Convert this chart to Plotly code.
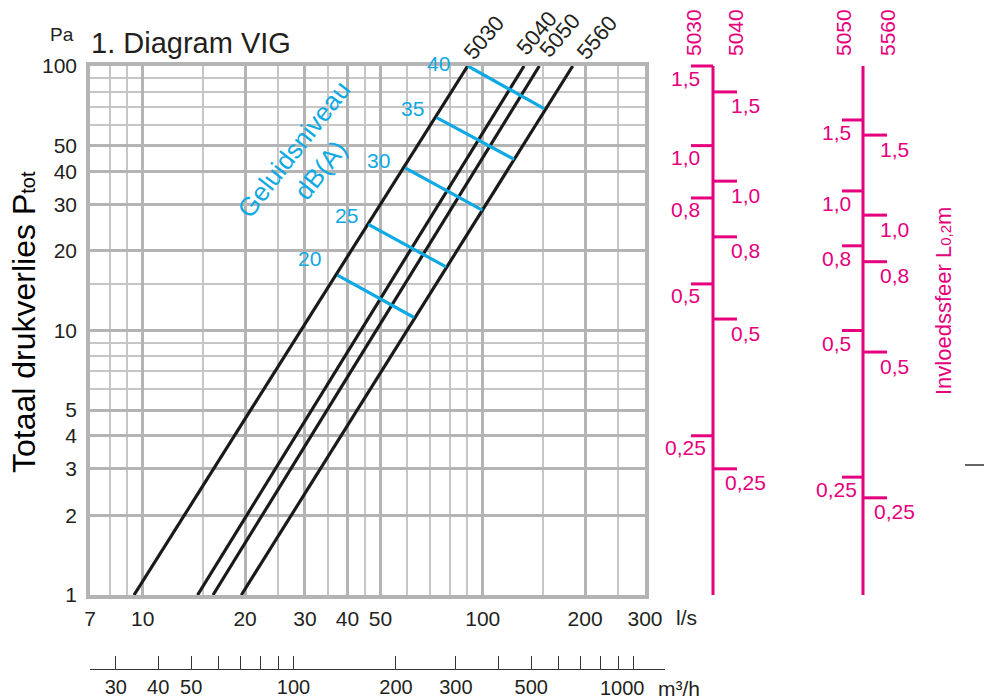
import math
import plotly.graph_objects as go

W, H = 984, 700

# ---------------- data ----------------
flow_ticks_ls = [7, 10, 20, 30, 40, 50, 100, 200, 300]
flow_minor_ls = [8, 9, 15, 25, 35, 45, 60, 70, 80, 90, 150, 250]
pressure_ticks = [1, 2, 3, 4, 5, 10, 20, 30, 40, 50, 100]
pressure_minor = [6, 7, 8, 9, 15, 60, 70, 80, 90]
flow_ticks_m3h = [30, 40, 50, 60, 70, 80, 90, 100, 200, 300, 400, 500, 600, 700, 800, 900, 1000]
flow_labels_m3h = ['30', '40', '50', '', '', '', '', '100', '200', '300', '', '500', '', '', '', '', '']
flow_last_label_m3h = 1000

fan_types = ['5030', '5040', '5050', '5560']
fan_q_at_1pa = [9.43, 14.5, 16.1, 19.5]        # l/s at 1 Pa
fan_q_at_100pa = [90.3, 132.3, 146.7, 183.9]   # l/s at 100 Pa

sound_levels = ['20', '25', '30', '35', '40']  # dB(A)
sound_q_start = [37.4, 46.1, 59.1, 73.2, 90.4]
sound_p_start = [16.2, 25.2, 41.2, 63.8, 100.0]
sound_q_end = [62.8, 78.0, 99.7, 123.6, 151.5]
sound_p_end = [11.2, 17.4, 28.5, 44.4, 69.0]

throw_labels = ['1,5', '1,0', '0,8', '0,5', '0,25']   # Invloedssfeer L0,2m (m)
throw_pa_5030 = [100.0, 50.0, 31.7, 15.0, 4.0]
throw_pa_5040 = [79.8, 36.7, 22.6, 11.05, 3.0]
throw_pa_5050 = [62.5, 33.7, 20.9, 10.0, 2.79]
throw_pa_5560 = [54.8, 27.3, 18.2, 8.29, 2.33]
throw_scale_extent = [1, 100]

# ---------------- style ----------------
FONT = 'Liberation Sans'
TXT = '#231f20'
PINK = '#e5007d'
BLUE = '#0fa9e3'
GRID_MAJ = '#b4b4b4'
GRID_MIN = '#c6c6c6'


def px(x):
    return x / W


def py(y):
    return (H - y) / H


PLOT_L, PLOT_R, PLOT_T, PLOT_B = 90, 645, 66, 595
DEC_X = (PLOT_R - PLOT_L) / (math.log10(300) - math.log10(7))
DEC_Y = (PLOT_B - PLOT_T) / 2.0

fig = go.Figure()

# fan characteristic lines
for name, q1, q100 in zip(fan_types, fan_q_at_1pa, fan_q_at_100pa):
    fig.add_trace(go.Scatter(x=[q1, q100], y=[1, 100], mode='lines',
                             line=dict(color='#1a1a1a', width=3.2),
                             name=name, hoverinfo='skip', showlegend=False))

# sound level lines
for lvl, qs, ps, qe, pe in zip(sound_levels, sound_q_start, sound_p_start, sound_q_end, sound_p_end):
    fig.add_trace(go.Scatter(x=[qs, qe], y=[ps, pe], mode='lines',
                             line=dict(color=BLUE, width=3.2),
                             name=lvl + ' dB(A)', hoverinfo='skip', showlegend=False))

# dummy trace to activate m3/h axis
fig.add_trace(go.Scatter(x=flow_ticks_m3h, y=[0.5] * len(flow_ticks_m3h), xaxis='x2', yaxis='y3',
                         mode='markers', marker=dict(size=1, opacity=0), hoverinfo='skip',
                         showlegend=False))

# throw-distance scales (pink)
scales = [
    ('5030', throw_pa_5030, 713, 691, 685, -12),
    ('5040', throw_pa_5040, 713, 737, 745, -14),
    ('5050', throw_pa_5050, 863, 842, 836, -12.5),
    ('5560', throw_pa_5560, 863, 887, 894, -14),
]
for spine_x in (713, 863):
    fig.add_trace(go.Scatter(x=[spine_x, spine_x], y=throw_scale_extent, xaxis='x3', yaxis='y2',
                             mode='lines', line=dict(color=PINK, width=3),
                             hoverinfo='skip', showlegend=False))

annotations = []
for name, pas, sx, tx, lx, ysh in scales:
    xs, ys = [], []
    for p in pas:
        xs += [sx, tx, None]
        ys += [p, p, None]
    fig.add_trace(go.Scatter(x=xs, y=ys, xaxis='x3', yaxis='y2', mode='lines',
                             line=dict(color=PINK, width=3), hoverinfo='skip', showlegend=False))
    for lab, p in zip(throw_labels, pas):
        annotations.append(dict(xref='x3', yref='y2', x=lx, y=math.log10(p), yshift=ysh,
                                text=lab, showarrow=False, xanchor='center', yanchor='middle',
                                font=dict(size=21, color=PINK, family=FONT)))

header_x = {'5030': 693, '5040': 735, '5050': 843, '5560': 887}
for name in fan_types:
    annotations.append(dict(xref='paper', yref='paper', x=px(header_x[name]), y=py(33),
                            text=name, textangle=-90, showarrow=False,
                            xanchor='center', yanchor='middle',
                            font=dict(size=21, color=PINK, family=FONT)))

# fan labels at top of lines
fan_label_shift = [(16, 29), (12, 33), (20, 31), (24, 29)]
for name, q100, (dx, dy) in zip(fan_types, fan_q_at_100pa, fan_label_shift):
    annotations.append(dict(xref='x', yref='y', x=math.log10(q100), y=2, xshift=dx, yshift=dy,
                            text=name, textangle=-50, showarrow=False,
                            xanchor='center', yanchor='middle',
                            font=dict(size=22, color=TXT, family=FONT)))

# sound level labels
sound_label_shift = [(-28, 17), (-22, 9), (-27, 7), (-24, 9), (-29, 3)]
for lvl, qs, ps, (dx, dy) in zip(sound_levels, sound_q_start, sound_p_start, sound_label_shift):
    annotations.append(dict(xref='x', yref='y', x=math.log10(qs), y=math.log10(ps),
                            xshift=dx, yshift=dy, text=lvl, showarrow=False,
                            xanchor='center', yanchor='middle',
                            font=dict(size=21, color=BLUE, family=FONT)))

annotations += [
    dict(xref='paper', yref='paper', x=px(307), y=py(160), text='Geluidsniveau<br>dB(A)',
         textangle=-52, showarrow=False, xanchor='center', yanchor='middle', align='center',
         font=dict(size=26, color=BLUE, family=FONT)),
    dict(xref='paper', yref='paper', x=px(89), y=py(43), text='1. Diagram VIG',
         showarrow=False, xanchor='left', yanchor='middle',
         font=dict(size=29, color=TXT, family=FONT)),
    dict(xref='paper', yref='paper', x=px(62), y=py(34), text='Pa',
         showarrow=False, xanchor='center', yanchor='middle',
         font=dict(size=19, color=TXT, family=FONT)),
    dict(xref='paper', yref='paper', x=px(24), y=py(322),
         text="Totaal drukverlies P<span style='font-size:20px'>tot</span>",
         textangle=-90, showarrow=False, xanchor='center', yanchor='middle',
         font=dict(size=32, color='#000000', family=FONT)),
    dict(xref='paper', yref='paper', x=px(686), y=py(617), text='l/s',
         showarrow=False, xanchor='center', yanchor='middle',
         font=dict(size=21, color=TXT, family=FONT)),
    dict(xref='x2', yref='paper', x=math.log10(flow_last_label_m3h), y=py(688), xshift=-11,
         text=str(flow_last_label_m3h), showarrow=False, xanchor='center', yanchor='middle',
         font=dict(size=20, color=TXT, family=FONT)),
    dict(xref='paper', yref='paper', x=px(656), y=py(688), text='m³/h',
         showarrow=False, xanchor='left', yanchor='middle',
         font=dict(size=21, color=TXT, family=FONT)),
    dict(xref='paper', yref='paper', x=px(943), y=py(301),
         text="Invloedssfeer L<span style='font-size:15px'>0,2</span>m",
         textangle=-90, showarrow=False, xanchor='center', yanchor='middle',
         font=dict(size=22, color=PINK, family=FONT)),
]

y2_lo = -(600 - PLOT_B) / DEC_Y
y2_hi = 2 + (PLOT_T - 60) / DEC_Y
x2_lo = math.log10(7 * 3.6)
x2_hi = x2_lo + (665 - PLOT_L) / DEC_X

fig.update_layout(
    width=W, height=H, template='none',
    margin=dict(l=0, r=0, t=0, b=0),
    paper_bgcolor='white', plot_bgcolor='white', showlegend=False,
    font=dict(family=FONT, color=TXT),
    xaxis=dict(type='log', domain=[px(PLOT_L), px(PLOT_R)],
               range=[math.log10(7), math.log10(300)], anchor='y',
               tickmode='array', tickvals=flow_ticks_ls, ticktext=[str(v) for v in flow_ticks_ls],
               ticks='', showgrid=True, gridcolor=GRID_MAJ, gridwidth=3,
               minor=dict(tickvals=flow_minor_ls, showgrid=True, gridcolor=GRID_MIN,
                          gridwidth=1.6, ticks=''),
               showline=True, linecolor=GRID_MAJ, linewidth=3.5, mirror=True, zeroline=False,
               tickfont=dict(size=21, color=TXT), ticklabelstandoff=2,
               automargin=False, fixedrange=True),
    yaxis=dict(type='log', domain=[py(PLOT_B), py(PLOT_T)], range=[0, 2], anchor='x',
               tickmode='array', tickvals=pressure_ticks, ticktext=[str(v) for v in pressure_ticks],
               ticks='', showgrid=True, gridcolor=GRID_MAJ, gridwidth=3,
               minor=dict(tickvals=pressure_minor, showgrid=True, gridcolor=GRID_MIN,
                          gridwidth=1.6, ticks=''),
               showline=True, linecolor=GRID_MAJ, linewidth=3.5, mirror=True, zeroline=False,
               tickfont=dict(size=21, color=TXT), ticklabelstandoff=5,
               automargin=False, fixedrange=True),
    xaxis2=dict(type='log', domain=[px(PLOT_L), px(665)], range=[x2_lo, x2_hi], anchor='y3',
                side='bottom', tickmode='array', tickvals=flow_ticks_m3h, ticktext=flow_labels_m3h,
                ticks='inside', ticklen=13, tickwidth=1, tickcolor='#333333',
                showgrid=False, showline=True, linecolor='#333333', linewidth=1.2,
                zeroline=False, tickfont=dict(size=20, color=TXT), ticklabelstandoff=0,
                automargin=False, fixedrange=True),
    yaxis3=dict(domain=[py(669), py(669) + 0.02], range=[0, 1], anchor='x2', visible=False,
                showgrid=False, zeroline=False, fixedrange=True),
    xaxis3=dict(domain=[px(650), 1], range=[650, W], anchor='y2', visible=False,
                showgrid=False, zeroline=False, fixedrange=True),
    yaxis2=dict(type='log', domain=[py(600), py(60)], range=[y2_lo, y2_hi], anchor='x3',
                visible=False, showgrid=False, zeroline=False, fixedrange=True),
    annotations=annotations,
    shapes=[dict(type='line', xref='paper', yref='paper', x0=px(965), x1=px(984),
                 y0=py(465), y1=py(465), line=dict(color='#333333', width=1.5))],
)

fig.write_html('out.html', config={'displayModeBar': False},
               post_script="document.body.style.margin='0px';document.body.style.overflow='hidden';")
